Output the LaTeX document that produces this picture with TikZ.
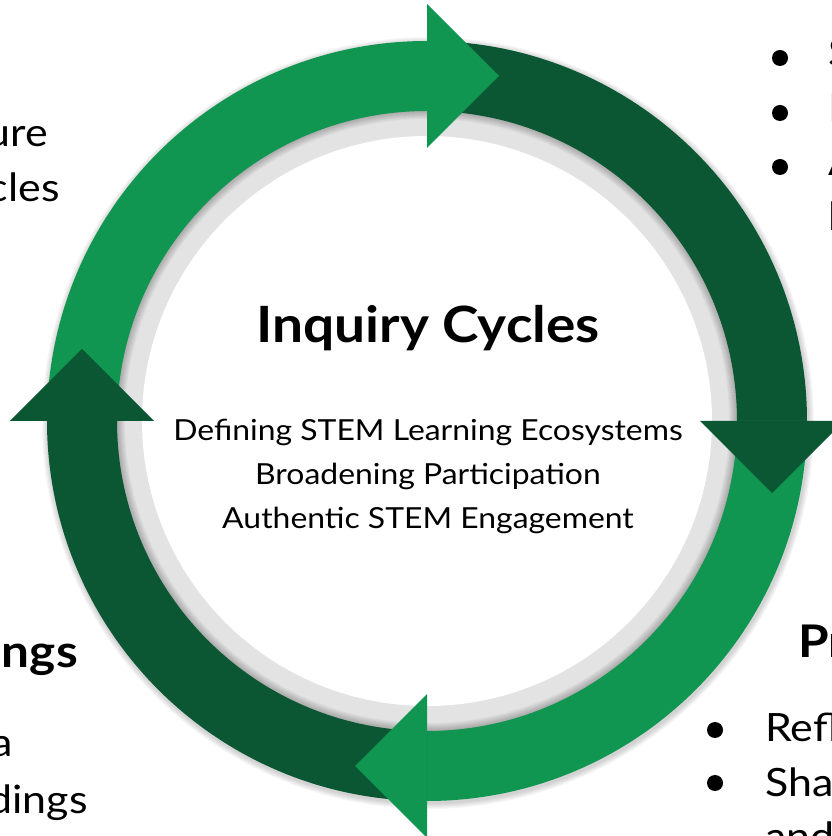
\documentclass[tikz,border=0pt]{standalone}
\usepackage{fontspec}
\setmainfont{Lato}[FakeStretch=1.1]
\usetikzlibrary{calc}
\definecolor{lightg}{RGB}{17,150,82}
\definecolor{darkg}{RGB}{11,87,51}
\definecolor{ringgray}{RGB}{227,227,227}
\newcommand\bandseg[3]{%
  \fill[#3] ($(C)+(#1:380)$) arc[start angle=#1,end angle=#2,radius=380]
    -- ($(C)+(#2:310)$) arc[start angle=#2,end angle=#1,radius=310] -- cycle;}
\newcommand\arrowhd[2]{%
  \fill[#2] ($(C)+(#1:273)$) -- ($(C)+(#1:417)$) -- ($(C)+(#1:345)+(#1-90:72)$) -- cycle;}
\begin{document}
\begin{tikzpicture}[x=1pt,y=1pt,
  side/.style={font=\fontsize{39}{39}\selectfont},
  head/.style={font=\bfseries\fontsize{45}{45}\selectfont},
  bul/.style={fill=black}]
\useasboundingbox (0,0) rectangle (832,836);
\coordinate (C) at (427,415);
% outer soft shadow
\foreach \i in {1,...,6}
  \fill[black,opacity=0.03] ($(C)+(1,-2)$) circle[radius=380+\i];
% gray ring and inner shadow
\fill[ringgray] (C) circle[radius=310];
\foreach \i in {1,...,9}
  \fill[black,opacity=0.03,even odd rule] (C) circle[radius=311] (C) circle[radius=311-\i];
\fill[white] (C) circle[radius=285];
% bands
\bandseg{180}{90}{lightg}
\bandseg{90}{0}{darkg}
\bandseg{0}{-90}{lightg}
\bandseg{-90}{-180}{darkg}
% arrowheads
\arrowhd{90}{lightg}
\arrowhd{0}{darkg}
\arrowhd{-90}{lightg}
\arrowhd{180}{darkg}
% centre text
\node[font=\bfseries\fontsize{50}{50}\selectfont] (title) at (428,508) {Inquiry Cycles};
\node[align=center,font=\fontsize{29}{44}\selectfont] (sub) at (428,360)
  {Defining STEM Learning Ecosystems\\Broadening Participation\\Authentic STEM Engagement};
% top-left
\node[side,anchor=base east,inner sep=0] (tl1) at (48,689) {ure};
\node[side,anchor=base east,inner sep=0] (tl2) at (60,634) {cles};
% top-right
\fill (780,778) circle[radius=8];
\fill (780,723) circle[radius=8];
\fill (780,669) circle[radius=8];
\node[side,anchor=base west,inner sep=0] (tr1) at (828,769) {S};
\node[side,anchor=base west,inner sep=0] (tr2) at (828,714) {I};
\node[side,anchor=base west,inner sep=0] (tr3) at (828,660) {A};
\node[side,anchor=base west,inner sep=0] (tr4) at (828,605) {l};
% bottom-right
\node[head,anchor=base west,inner sep=0] (brh) at (798,178) {Pr};
\fill (715,106) circle[radius=8];
\fill (715,53) circle[radius=8];
\node[side,anchor=base west,inner sep=0] (br1) at (765,94) {Refl};
\node[side,anchor=base west,inner sep=0] (br2) at (765,39) {Sha};
\node[side,anchor=base west,inner sep=0] (br3) at (765,-15) {and};
% bottom-left
\node[head,anchor=base east,inner sep=0] (blh) at (78,168) {ngs};
\node[side,anchor=base east,inner sep=0] (bl1) at (13,79) {a};
\node[side,anchor=base east,inner sep=0] (bl2) at (88,23) {dings};
\end{tikzpicture}
\end{document}
